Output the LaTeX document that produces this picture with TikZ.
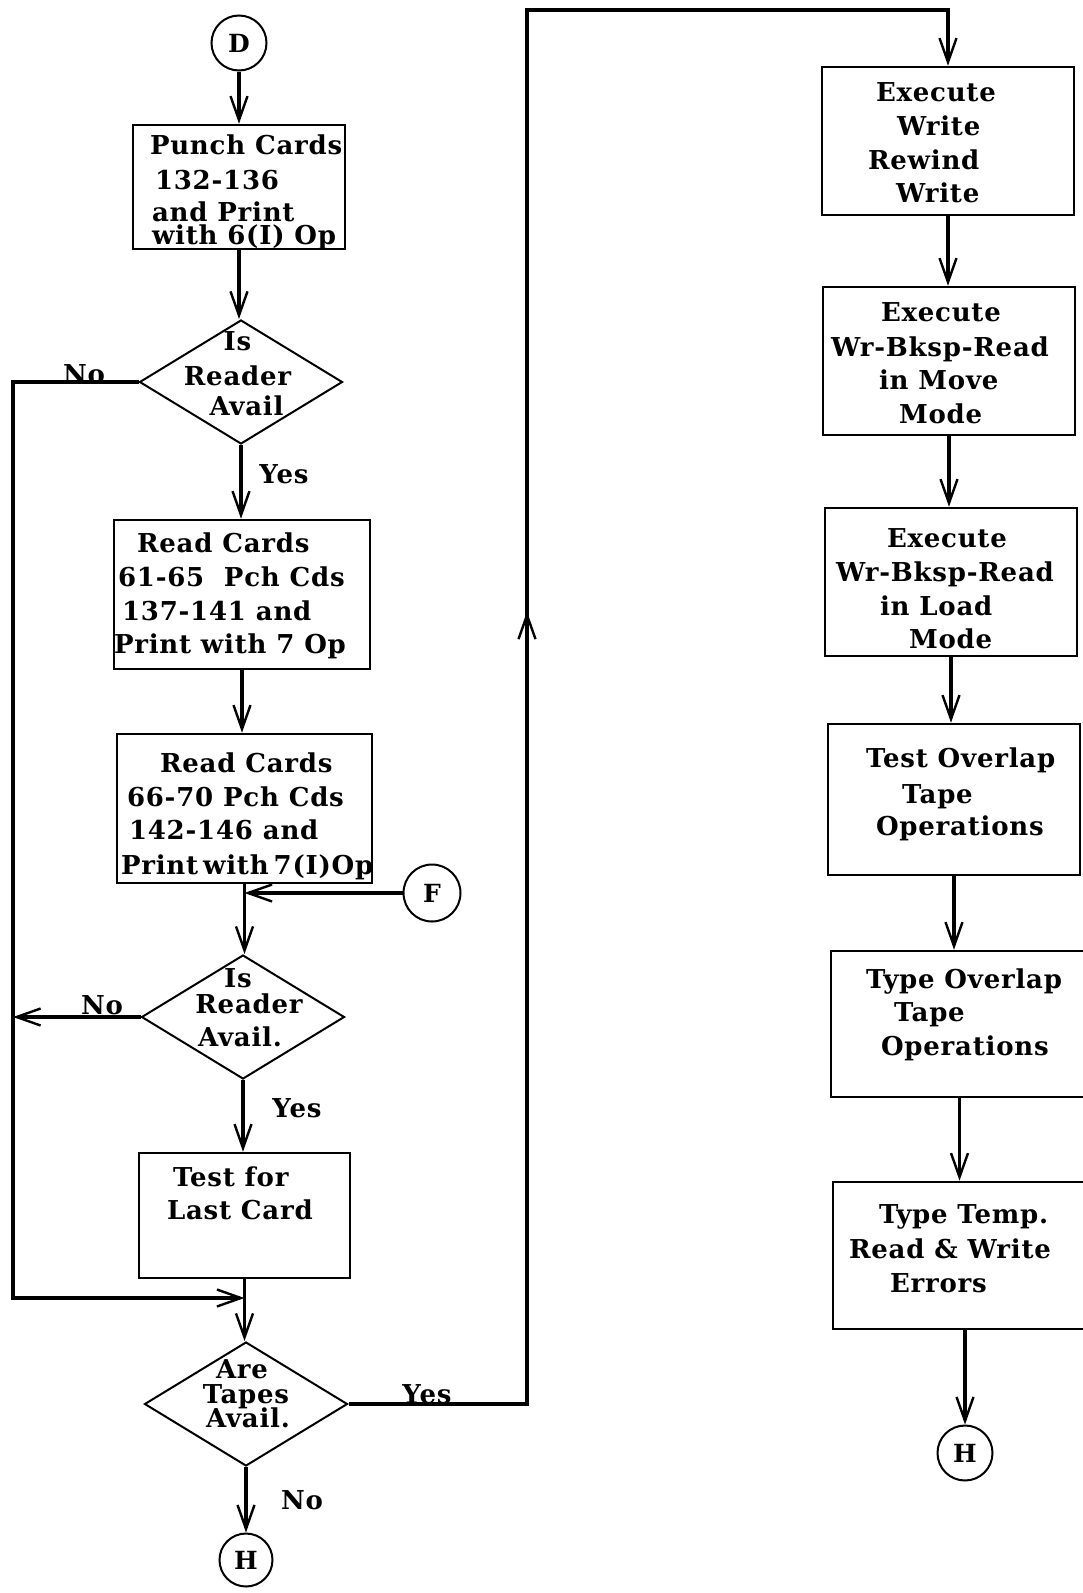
\documentclass[tikz,border=0pt]{standalone}
\usepackage{fontspec}
\setmainfont{DejaVu Serif}[LetterSpace=3]
\usetikzlibrary{arrows.meta,shapes.geometric,decorations.markings}
\newcommand{\ltext}[3]{\makebox[0pt][l]{\hspace*{#1pt}\raisebox{#2pt}[0pt][0pt]{\begin{tabular}[b]{@{}l@{}}#3\end{tabular}}}}
\newcommand{\ctext}[2]{\makebox[0pt][c]{\raisebox{#1pt}[0pt][0pt]{\begin{tabular}[b]{@{}c@{}}#2\end{tabular}}}}
\newcommand{\flowfont}{\fontsize{26}{34}\selectfont\bfseries}
\begin{document}
\begin{tikzpicture}[x=1pt,y=-1pt,
  proc/.style={draw, line width=2.6pt, rectangle, inner sep=0pt, font=\flowfont},
  dec/.style={draw, diamond, line width=2pt, inner sep=0pt, minimum width=203pt, minimum height=124pt, font=\flowfont},
  circ/.style={draw, circle, line width=2pt, inner sep=0pt, font=\fontsize{25}{28}\selectfont\bfseries},
  lbl/.style={anchor=base, inner sep=0pt, font=\flowfont},
  conn/.style={line width=3.2pt},
  tip/.style={-{Straight Barb[length=24pt,width=17pt,line width=2.4pt]}},
  midtip/.style={postaction={decorate}, decoration={markings, mark=at position #1 with {\arrow{Straight Barb[length=24pt,width=17pt,line width=2.4pt]}}}}
]
\fill[white] (0,0) rectangle (1082,1593);
\useasboundingbox (0,0) rectangle (1082,1593);

% left column
\node[circ, minimum size=55pt] (D) at (239,43) {D};
\node[proc, minimum width=212pt, minimum height=124pt] (P) at (239,187)
  {\ltext{-89}{-57}{Punch Cards\\[1pt] \hspace*{5pt}132-136\\[-2pt] \hspace*{2pt}and Print\\[-11pt] \hspace*{2pt}with 6(I) Op}};
\node[dec] (d1) at (241,382) {\ctext{-33}{Is\hspace*{7pt}\\[1pt] Reader\hspace*{7pt}\\[-4pt] \hspace*{11pt}Avail}};
\node[proc, minimum width=256pt, minimum height=149pt] (R1) at (242,594.5)
  {\ltext{-128}{-58.5}{\hspace*{23pt}Read Cards\\ \hspace*{4pt}61-65\ \ Pch Cds\\ \hspace*{8pt}137-141 and\\[-1pt] Print with 7 Op}};
\node[proc, minimum width=255pt, minimum height=149pt] (R2) at (244.5,808.5)
  {\ltext{-124.5}{-65.5}{\hspace*{40pt}Read Cards\\ \hspace*{7pt}66-70 Pch Cds\\[-1pt] \hspace*{9pt}142-146 and\\[1pt] \hspace*{1pt}Print\hspace{5pt}with\hspace{5pt}7(I)Op}};
\node[circ, minimum size=57pt] (F) at (432,893) {F};
\node[dec] (d2) at (243,1017) {\ctext{-29}{Is\hspace*{10pt}\\[-8pt] \hspace*{12pt}Reader\\[-1pt] Avail.\hspace*{6pt}}};
\node[proc, minimum width=211pt, minimum height=125pt] (T) at (244.5,1215.5)
  {\ltext{-77.5}{-3.5}{\hspace*{6pt}Test for\\[-1pt] Last Card}};
\node[dec] (d3) at (246,1404) {\ctext{-23}{Are\hspace*{8pt}\\[-9pt] Tapes\\[-10pt] \hspace*{4pt}Avail.}};
\node[circ, minimum size=53pt] (H1) at (246,1560) {H};

% right column
\node[proc, minimum width=252pt, minimum height=148pt] (A) at (948,141)
  {\ltext{-80}{-61}{\hspace*{8pt}Execute\\ \hspace*{29pt}Write\\ Rewind\\[-1pt] \hspace*{28pt}Write}};
\node[proc, minimum width=252pt, minimum height=148pt] (B) at (949,361)
  {\ltext{-118}{-62}{\hspace*{50pt}Execute\\[1pt] Wr-Bksp-Read\\[-1pt] \hspace*{48pt}in Move\\ \hspace*{68pt}Mode}};
\node[proc, minimum width=252pt, minimum height=148pt] (C) at (951,582)
  {\ltext{-115}{-66}{\hspace*{51pt}Execute\\ Wr-Bksp-Read\\ \hspace*{44pt}in Load\\[-1pt] \hspace*{73pt}Mode}};
\node[proc, minimum width=252pt, minimum height=151pt] (Dx) at (954,799.5)
  {\ltext{-88}{-35.5}{Test Overlap\\[2pt] \hspace*{36pt}Tape\\[-2pt] \hspace*{10pt}Operations}};
\node[proc, minimum width=257pt, minimum height=146pt] (E) at (959.5,1024)
  {\ltext{-93.5}{-31}{Type Overlap\\[-1pt] \hspace*{28pt}Tape\\ \hspace*{15pt}Operations}};
\node[proc, minimum width=257pt, minimum height=147pt] (Fb) at (961.5,1255.5)
  {\ltext{-112.5}{-36.5}{\hspace*{30pt}Type Temp.\\[1pt] Read \& Write\\ \hspace*{41pt}Errors}};
\node[circ, minimum size=55pt] (H2) at (965,1453) {H};

% labels
\node[lbl] (no1) at (84,383) {No};
\node[lbl] (yes1) at (284,483) {Yes};
\node[lbl] (no2) at (102,1014) {No};
\node[lbl] (yes2) at (297,1117) {Yes};
\node[lbl] (yes3) at (427,1403) {Yes};
\node[lbl] (no3) at (302,1509) {No};

\coordinate (Lc) at (13,1298);
\coordinate (Rc) at (527,10);

% connectors left
\draw[conn,tip] (D.south) -- (D.south |- P.north);
\draw[conn,tip] (P.south) -- (P.south |- d1.north);
\draw[conn,tip] (d1.south) -- (d1.south |- R1.north);
\draw[conn,tip] (R1.south) -- (R1.south |- R2.north);
\draw[conn,tip] (R2.south) -- (R2.south |- d2.north);
\draw[conn,tip] (F.west) -- (F.west -| R2.south);
\draw[conn,tip] (d2.west) -- (d2.west -| Lc);
\draw[conn,tip] (d1.west) -| (Lc) -- (Lc -| T.south);
\draw[conn,tip] (d2.south) -- (d2.south |- T.north);
\draw[conn,tip] (T.south) -- (T.south |- d3.north);
\draw[conn,tip] (d3.south) -- (d3.south |- H1.north);
\draw[conn,tip,midtip=971pt] (d3.east) -| (Rc) -- (Rc -| A.north) -- (A.north);

% connectors right
\draw[conn,tip] (A.south) -- (A.south |- B.north);
\draw[conn,tip] (B.south) -- (B.south |- C.north);
\draw[conn,tip] (C.south) -- (C.south |- Dx.north);
\draw[conn,tip] (Dx.south) -- (Dx.south |- E.north);
\draw[conn,tip] (E.south) -- (E.south |- Fb.north);
\draw[conn,tip] (H2.north |- Fb.south) -- (H2.north);
\end{tikzpicture}
\end{document}
